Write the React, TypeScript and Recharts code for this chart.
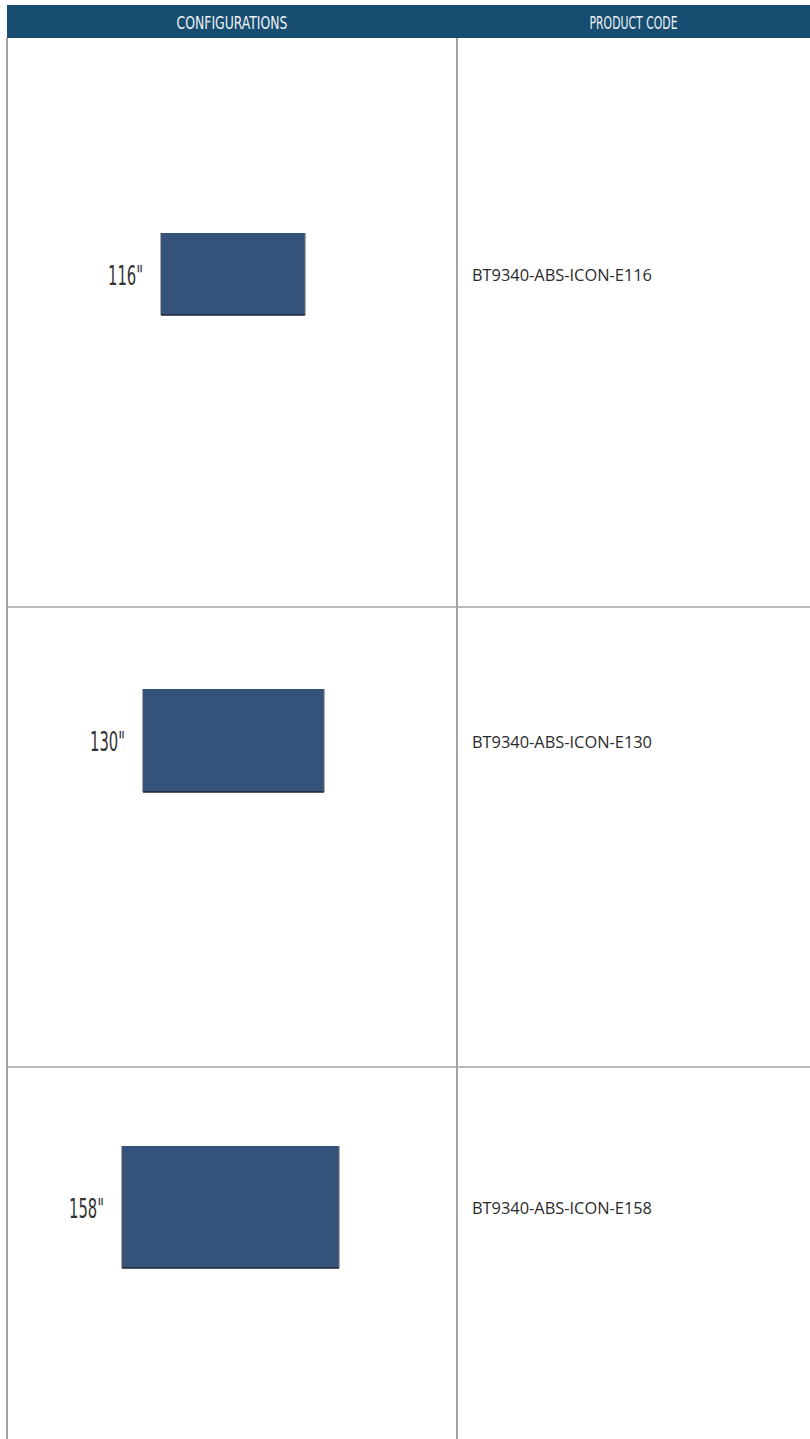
import React from "react";
import {
  ComposedChart,
  XAxis,
  YAxis,
  Scatter,
  LabelList,
  ReferenceArea,
  ReferenceLine,
} from "recharts";

// screen sizes (diagonal), product codes and drawn screen footprint
const SIZE_LABELS = ['116"', '130"', '158"'];
const PRODUCT_CODES = ["BT9340-ABS-ICON-E116", "BT9340-ABS-ICON-E130", "BT9340-ABS-ICON-E158"];
const SCREEN_WIDTHS = [144, 181, 217];
const SCREEN_HEIGHTS = [82, 103, 122];
const HEADERS = ["CONFIGURATIONS", "PRODUCT CODE"];

// layout
const W = 810;
const H = 1439;
const LEFT = 7;
const SPLIT = 457;
const HEAD_TOP = 5;
const HEAD_BOTTOM = 38;
const ROW_LINES = [607, 1067];
const ROW_MIDS = [274, 740.5, 1207];
const SCREEN_CX = [233, 233.5, 230.5];
const CODE_X = 472;

const HEADER_BG = "#164d70";
const SCREEN_FILL = "#34527a";
const GRID = "#a3a3a3";
const CONDENSED = "'Liberation Sans Narrow', 'DejaVu Sans Condensed', sans-serif";

const rows = SIZE_LABELS.map((size, i) => ({
  size,
  code: PRODUCT_CODES[i],
  w: SCREEN_WIDTHS[i],
  h: SCREEN_HEIGHTS[i],
  x: CODE_X,
  y: ROW_MIDS[i],
}));

function HeaderLabel({ viewBox, value, len }: any) {
  const { x, y, width, height } = viewBox;
  return (
    <text
      x={x + width / 2}
      y={y + height / 2 + 1}
      textAnchor="middle"
      dominantBaseline="central"
      fill="#eef2f5"
      fontFamily={CONDENSED}
      fontSize={17}
      textLength={len}
      lengthAdjust="spacingAndGlyphs"
    >
      {value}
    </text>
  );
}

function SizeLabel({ viewBox, value }: any) {
  const { x, y, height } = viewBox;
  return (
    <text
      x={x - 18}
      y={y + height / 2 + 1}
      textAnchor="end"
      dominantBaseline="central"
      fill="#333"
      fontFamily={CONDENSED}
      fontSize={27}
      textLength={35}
      lengthAdjust="spacingAndGlyphs"
    >
      {value}
    </text>
  );
}

function CodeLabel(props: any) {
  const { x, y, width, height, value } = props;
  return (
    <text
      x={x + (width || 0) / 2}
      y={y + (height || 0) / 2 + 1}
      dominantBaseline="central"
      fill="#2a2a2a"
      fontFamily="'Open Sans', sans-serif"
      fontSize={16}
      textLength={180}
      lengthAdjust="spacingAndGlyphs"
    >
      {value}
    </text>
  );
}

function ScreenShape(props: any) {
  const { x, y, width, height } = props;
  return (
    <g>
      <rect x={x} y={y} width={width} height={height} fill={SCREEN_FILL} />
      <line x1={x} y1={y} x2={x} y2={y + height} stroke="#4a5568" strokeWidth={1} />
      <line x1={x + width} y1={y} x2={x + width} y2={y + height} stroke="#6b6f78" strokeWidth={1.2} />
      <line x1={x} y1={y + height} x2={x + width} y2={y + height} stroke="#1c2433" strokeWidth={1.5} />
    </g>
  );
}

export default function App() {
  return (
    <div style={{ position: "absolute", left: 0, top: 0, width: W, height: H, background: "#fff" }}>
      <ComposedChart width={W} height={H} data={rows} margin={{ top: 0, right: 0, bottom: 0, left: 0 }}>
        <XAxis type="number" dataKey="x" domain={[0, W]} hide allowDataOverflow />
        <YAxis type="number" dataKey="y" domain={[0, H]} reversed hide allowDataOverflow />

        <ReferenceArea
          x1={LEFT}
          x2={SPLIT}
          y1={HEAD_TOP}
          y2={HEAD_BOTTOM}
          fill={HEADER_BG}
          fillOpacity={1}
          label={<HeaderLabel value={HEADERS[0]} len={111} />}
        />
        <ReferenceArea
          x1={SPLIT}
          x2={W}
          y1={HEAD_TOP}
          y2={HEAD_BOTTOM}
          fill={HEADER_BG}
          fillOpacity={1}
          label={<HeaderLabel value={HEADERS[1]} len={88} />}
        />

        <ReferenceLine segment={[{ x: LEFT, y: HEAD_BOTTOM }, { x: LEFT, y: H }]} stroke={GRID} strokeWidth={2} />
        <ReferenceLine segment={[{ x: SPLIT, y: HEAD_BOTTOM }, { x: SPLIT, y: H }]} stroke={GRID} strokeWidth={2} />
        {ROW_LINES.map((ly) => (
          <ReferenceLine key={ly} segment={[{ x: LEFT, y: ly }, { x: W, y: ly }]} stroke={GRID} strokeWidth={1.5} />
        ))}

        {rows.map((r, i) => (
          <ReferenceArea
            key={r.size}
            x1={SCREEN_CX[i] - r.w / 2}
            x2={SCREEN_CX[i] + r.w / 2}
            y1={ROW_MIDS[i] - r.h / 2}
            y2={ROW_MIDS[i] + r.h / 2}
            fillOpacity={1}
            shape={<ScreenShape />}
            label={<SizeLabel value={r.size} />}
          />
        ))}

        <Scatter data={rows} dataKey="y" shape={() => <g />} isAnimationActive={false}>
          <LabelList dataKey="code" content={<CodeLabel />} />
        </Scatter>
      </ComposedChart>
    </div>
  );
}
